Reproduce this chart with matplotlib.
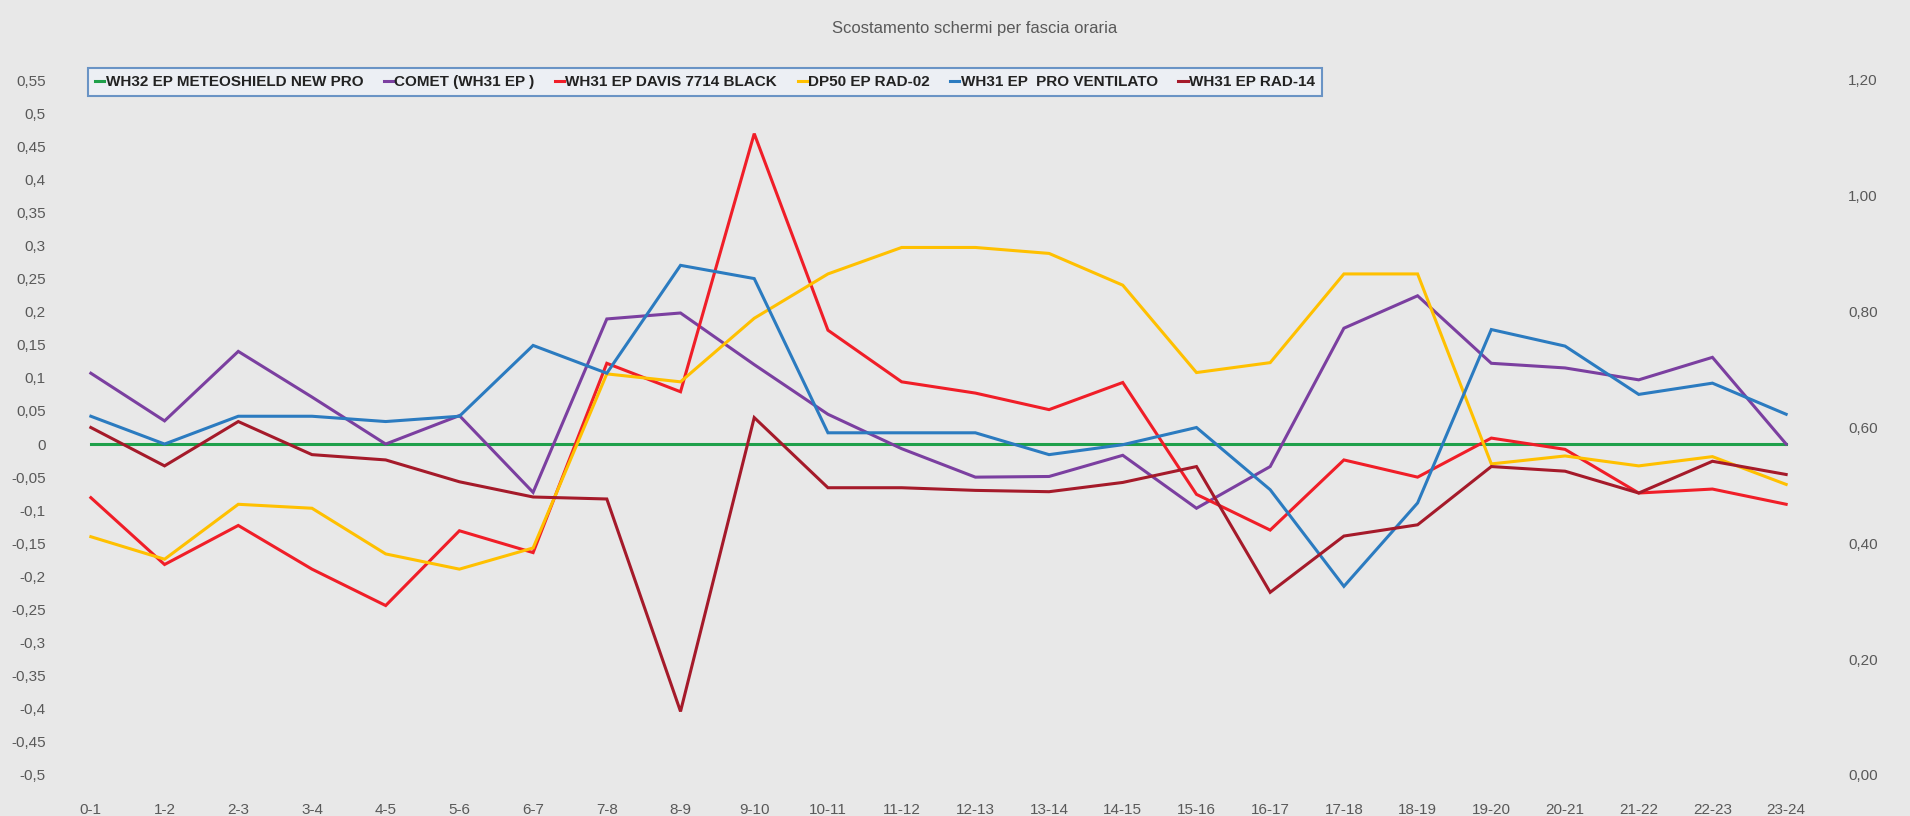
import matplotlib
matplotlib.use("Agg")
import matplotlib.pyplot as plt
from matplotlib.ticker import FuncFormatter, MultipleLocator
import numpy as np

# fasce orarie
fasce = ['0-1', '1-2', '2-3', '3-4', '4-5', '5-6', '6-7', '7-8', '8-9', '9-10',
         '10-11', '11-12', '12-13', '13-14', '14-15', '15-16', '16-17', '17-18',
         '18-19', '19-20', '20-21', '21-22', '22-23', '23-24']

wh32_meteoshield = [0.0] * 24
comet = [0.107, 0.035, 0.14, 0.071, 0.0, 0.043, -0.073, 0.189, 0.198, 0.12,
         0.045, -0.007, -0.05, -0.049, -0.017, -0.097, -0.034, 0.175,
         0.224, 0.122, 0.115, 0.097, 0.131, 0.0]
davis_7714 = [-0.081, -0.182, -0.123, -0.189, -0.244, -0.131, -0.164, 0.122, 0.079, 0.469,
              0.172, 0.094, 0.077, 0.052, 0.093, -0.076, -0.13, -0.024,
              -0.05, 0.009, -0.008, -0.074, -0.068, -0.091]
dp50_rad02 = [-0.14, -0.174, -0.091, -0.097, -0.166, -0.189, -0.157, 0.106, 0.094, 0.19,
              0.257, 0.297, 0.297, 0.288, 0.24, 0.108, 0.123, 0.257,
              0.257, -0.03, -0.018, -0.033, -0.019, -0.061]
pro_ventilato = [0.042, 0.0, 0.042, 0.042, 0.034, 0.042, 0.149, 0.107, 0.27, 0.25,
                 0.017, 0.017, 0.017, -0.016, -0.001, 0.025, -0.069, -0.215,
                 -0.089, 0.173, 0.148, 0.075, 0.092, 0.045]
rad14 = [0.025, -0.033, 0.034, -0.016, -0.024, -0.057, -0.080, -0.083, -0.404, 0.04,
         -0.066, -0.066, -0.07, -0.072, -0.058, -0.034, -0.224, -0.139,
         -0.122, -0.034, -0.041, -0.074, -0.026, -0.046]

series = [
    ('WH32 EP METEOSHIELD NEW PRO', wh32_meteoshield, '#1fa04b'),
    ('COMET (WH31 EP )', comet, '#7b3fa0'),
    ('WH31 EP DAVIS 7714 BLACK', davis_7714, '#f01e28'),
    ('DP50 EP RAD-02', dp50_rad02, '#ffc000'),
    ('WH31 EP  PRO VENTILATO', pro_ventilato, '#2b7bc0'),
    ('WH31 EP RAD-14', rad14, '#a51a2a'),
]

plt.rcParams['font.family'] = ['Liberation Sans Narrow', 'Liberation Sans', 'DejaVu Sans']

bg = '#e8e8e8'
fig = plt.figure(figsize=(19.1, 8.16), dpi=100, facecolor=bg)
ax = fig.add_axes([54 / 1910, 1 - 775 / 816, (1823 - 54) / 1910, (775 - 80) / 816])
ax.set_facecolor(bg)

x = np.arange(len(fasce))
for label, vals, col in series:
    ax.plot(x, vals, color=col, linewidth=2.2, label=label, solid_joinstyle='miter')

ax.set_xlim(-0.5, len(fasce) - 0.5)
ax.set_ylim(-0.5, 0.55)
ax.yaxis.set_major_locator(MultipleLocator(0.05))


def it_fmt(v, pos):
    s = f"{v:.2f}".rstrip('0').rstrip('.')
    if s in ('-0', '-0.'):
        s = '0'
    return s.replace('.', ',')


ax.yaxis.set_major_formatter(FuncFormatter(it_fmt))
ax.set_xticks(x)
ax.set_xticklabels(fasce)
ax.tick_params(axis='x', length=0, pad=20, labelsize=11, colors='#595959')
ax.tick_params(axis='y', length=0, pad=6, labelsize=11, colors='#595959')
for s in ax.spines.values():
    s.set_visible(False)

ax2 = ax.twinx()
ax2.set_ylim(0, 1.2)
ax2.yaxis.set_major_locator(MultipleLocator(0.2))
ax2.yaxis.set_major_formatter(FuncFormatter(lambda v, p: f"{v:.2f}".replace('.', ',')))
ax2.tick_params(axis='y', length=0, pad=18, labelsize=11, colors='#595959')
for s in ax2.spines.values():
    s.set_visible(False)

fig.text(975 / 1910, 1 - 28 / 816, 'Scostamento schermi per fascia oraria',
         ha='center', va='center', fontsize=12, color='#595959')

leg = ax.legend(loc='lower left', ncol=6, mode='expand',
                bbox_to_anchor=(88 / 1910, 1 - 96 / 816, (1322 - 88) / 1910, 31 / 816),
                bbox_transform=fig.transFigure, handlelength=0.6, handletextpad=0.1,
                fontsize=11, frameon=True, fancybox=False, borderaxespad=0,
                borderpad=0.45)
leg.get_frame().set_edgecolor('#4a7ebb')
leg.get_frame().set_facecolor('#eef2f8')
leg.get_frame().set_linewidth(1.5)
for t in leg.get_texts():
    t.set_fontweight('bold')
    t.set_color('#222222')

fig.savefig('out.png', dpi=100, facecolor=bg)
